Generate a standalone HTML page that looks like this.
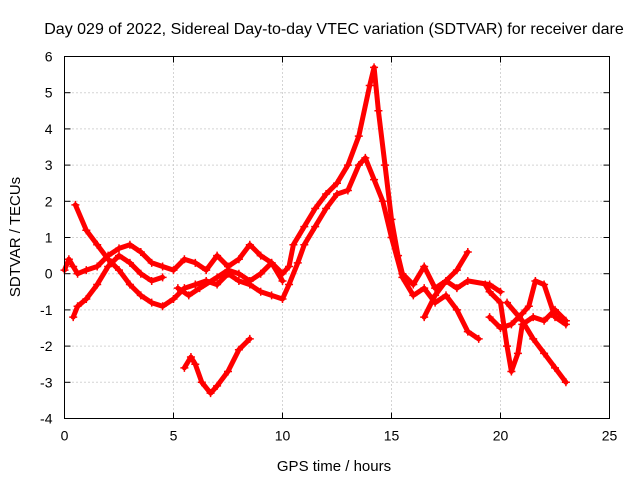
<!DOCTYPE html>
<html><head><meta charset="utf-8">
<style>
body{margin:0;background:#fff;}
svg{display:block;font-family:"Liberation Sans",sans-serif;}
</style></head>
<body>
<svg id="chart" width="640" height="480">
<text x="334" y="34" font-size="16" text-anchor="middle">Day 029 of 2022, Sidereal Day-to-day VTEC variation (SDTVAR) for receiver dare</text>
<text x="334" y="471" font-size="15" text-anchor="middle">GPS time / hours</text>
<text x="20" y="237" font-size="15" text-anchor="middle" transform="rotate(-90 20 237)">SDTVAR / TECUs</text>
<g id="grid"></g><g id="ticks"></g><g id="series"></g>
<rect x="64.5" y="56.5" width="545" height="362" fill="none" stroke="#000" stroke-width="1"/>
</svg>
<script>
const xTicks=[0,5,10,15,20,25];
const yTicks=[-4,-3,-2,-1,0,1,2,3,4,5,6];
const trace1=[[0,0.1],[0.2,0.4],[0.4,0.2],[0.6,0.0],[1,0.1],[1.5,0.2],[2,0.5],[2.5,0.7],[3,0.8],[3.5,0.6],[4,0.3],[4.5,0.2],[5,0.1],[5.5,0.4],[6,0.3],[6.5,0.1],[7,0.5],[7.5,0.2],[8,0.4],[8.5,0.8],[9,0.5],[9.5,0.3],[10,0],[10.3,0.2],[10.5,0.8],[11,1.3],[11.5,1.8],[12,2.2],[12.5,2.5],[13,3],[13.5,3.8],[14,5.2],[14.2,5.7],[14.4,4.5],[14.7,3],[15,1.5],[15.3,0.5],[15.5,0],[16,-0.3],[16.5,0.2],[17,-0.4],[17.5,-0.2],[18,0.1],[18.5,0.6]];
const trace2=[[0.5,1.9],[1,1.2],[1.5,0.8],[2,0.4],[2.5,0.1],[3,-0.3],[3.5,-0.6],[4,-0.8],[4.5,-0.9],[5,-0.7],[5.5,-0.4],[6,-0.3],[6.5,-0.2],[7,-0.3],[7.5,0],[8,-0.2],[8.5,-0.3],[9,-0.5],[9.5,-0.6],[10,-0.7],[10.3,-0.3],[10.7,0.3],[11,0.8],[11.5,1.3],[12,1.8],[12.5,2.2],[13,2.3],[13.5,3],[13.8,3.2],[14.2,2.6],[14.6,2],[15,1],[15.5,-0.1],[16,-0.6],[16.5,-0.4],[17,-0.8],[17.5,-0.6],[18,-1],[18.5,-1.6],[19,-1.8]];
const trace3=[[0.4,-1.2],[0.6,-0.9],[1,-0.7],[1.5,-0.3],[2,0.2],[2.5,0.5],[3,0.3],[3.5,0],[4,-0.2],[4.5,-0.1]];
const trace4=[[5.2,-0.4],[5.7,-0.6],[6.2,-0.4],[7,-0.1],[7.5,0.1],[8,0],[8.5,-0.2],[9,0],[9.5,0.3],[10,-0.2]];
const trace5=[[5.5,-2.6],[5.8,-2.3],[6,-2.5],[6.3,-3.0],[6.7,-3.3],[7,-3.1],[7.5,-2.7],[8,-2.1],[8.5,-1.8]];
const trace6=[[19.3,-0.3],[19.5,-0.5],[20,-0.8],[20.3,-2.0],[20.5,-2.7],[20.8,-2.2],[21,-1.4],[21.5,-1.2],[22,-1.3],[22.5,-1.0],[23,-1.3]];
const trace7=[[19.5,-1.2],[20,-1.5],[20.5,-1.4],[21,-1.1],[21.3,-0.9],[21.6,-0.2],[22,-0.3],[22.5,-1.2],[23,-1.4]];
const trace8=[[20.3,-0.8],[21,-1.3],[21.5,-1.8],[22,-2.2],[22.5,-2.6],[23,-3.0]];
const trace9=[[16.5,-1.2],[17,-0.6],[17.5,-0.2],[18,-0.4],[18.5,-0.2],[19.5,-0.3],[20,-0.5]];
const traces=[trace1,trace2,trace3,trace4,trace5,trace6,trace7,trace8,trace9];

const X0=64.5,X1=609.5,Y0=418.5,Y1=56.5;
function sx(v){return X0+(v-0)/(25-0)*(X1-X0);}
function sy(v){return Y0-(v+4)/(6+4)*(Y0-Y1);}
const NS="http://www.w3.org/2000/svg";
function mk(t,a,p){const e=document.createElementNS(NS,t);for(const k in a)e.setAttribute(k,a[k]);p.appendChild(e);return e;}
const grid=document.getElementById('grid'),ticks=document.getElementById('ticks'),ser=document.getElementById('series');
xTicks.forEach(t=>{
  const x=sx(t);
  if(t>0&&t<25){const g=mk('line',{x1:x,x2:x,y1:Y1,y2:Y0,stroke:'#aaa','stroke-dasharray':'1,3'},grid);
  
  }
  const l=mk('text',{x:x,y:Y0+22,'font-size':14,'text-anchor':'middle'},ticks);l.textContent=t;
  
  
  mk('line',{x1:x,x2:x,y1:Y0,y2:Y0-6,stroke:'#000'},ticks);
  mk('line',{x1:x,x2:x,y1:Y1,y2:Y1+6,stroke:'#000'},ticks);
});
yTicks.forEach(t=>{
  const y=sy(t);
  if(t>-4&&t<6){const g=mk('line',{x1:X0,x2:X1,y1:y,y2:y,stroke:'#aaa','stroke-dasharray':'1,3'},grid);
  
  }
  const l=mk('text',{x:X0-12,y:y+5,'font-size':14,'text-anchor':'end'},ticks);l.textContent=t;
  
  
  mk('line',{x1:X0,x2:X0+6,y1:y,y2:y,stroke:'#000'},ticks);
  mk('line',{x1:X1,x2:X1-6,y1:y,y2:y,stroke:'#000'},ticks);
});
traces.forEach((tr,i)=>{
  const d=tr.map((p,j)=>(j?'L':'M')+sx(p[0]).toFixed(1)+','+sy(p[1]).toFixed(1)).join(' ');
  const path=mk('path',{d:d,fill:'none',stroke:'#f00','stroke-width':5,'stroke-linejoin':'round','stroke-linecap':'round'},ser);
  
  
  tr.forEach(p=>{
    const x=sx(p[0]),y=sy(p[1]);
    const m=mk('path',{d:`M${x-4},${y}H${x+4}M${x},${y-4}V${y+4}`,stroke:'#f00','stroke-width':1.5},ser);
    
    
  });
});
</script>
</body></html>
